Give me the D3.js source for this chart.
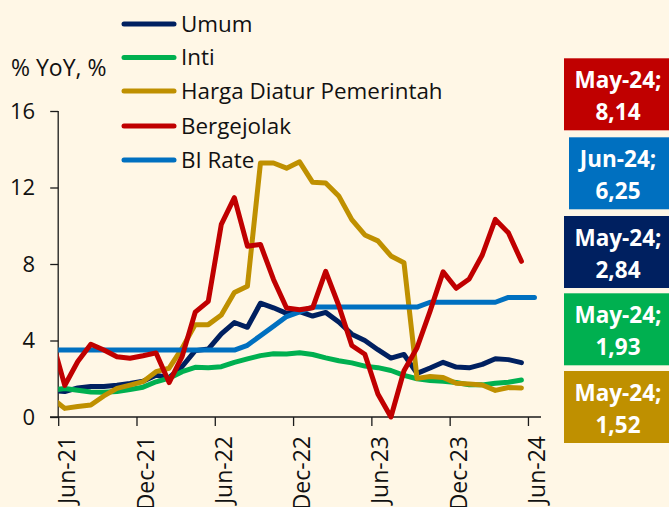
<!DOCTYPE html>
<html>
<head>
<meta charset="utf-8">
<script src="https://cdn.jsdelivr.net/npm/d3@7"></script>
<style>
  body { margin: 0; background: #fff7e6; }
  svg { display: block; font-family: "Open Sans", sans-serif; }
</style>
</head>
<body>
<div id="chart"></div>
<script>
// months from May-21 to Jun-24 (index 0 of the axis = Jun-21)
var months = ["May-21","Jun-21","Jul-21","Aug-21","Sep-21","Oct-21","Nov-21","Dec-21",
  "Jan-22","Feb-22","Mar-22","Apr-22","May-22","Jun-22","Jul-22","Aug-22","Sep-22","Oct-22","Nov-22","Dec-22",
  "Jan-23","Feb-23","Mar-23","Apr-23","May-23","Jun-23","Jul-23","Aug-23","Sep-23","Oct-23","Nov-23","Dec-23",
  "Jan-24","Feb-24","Mar-24","Apr-24","May-24","Jun-24"];

var umum = [1.40, 1.33, 1.52, 1.59, 1.60, 1.66, 1.75, 1.87,
  2.18, 2.06, 2.64, 3.47, 3.55, 4.35, 4.94, 4.69, 5.95, 5.71, 5.42, 5.51,
  5.28, 5.47, 4.97, 4.33, 4.00, 3.52, 3.08, 3.27, 2.28, 2.56, 2.86, 2.61,
  2.57, 2.75, 3.05, 3.00, 2.84];

var inti = [1.40, 1.49, 1.40, 1.31, 1.30, 1.33, 1.44, 1.56,
  1.84, 2.03, 2.37, 2.60, 2.58, 2.63, 2.86, 3.04, 3.21, 3.31, 3.30, 3.36,
  3.27, 3.09, 2.94, 2.83, 2.66, 2.58, 2.43, 2.18, 2.00, 1.91, 1.87, 1.80,
  1.68, 1.68, 1.77, 1.82, 1.93];

var hargaDiatur = [1.00, 0.45, 0.55, 0.63, 1.10, 1.50, 1.67, 1.85,
  2.37, 2.55, 3.60, 4.83, 4.83, 5.33, 6.51, 6.84, 13.28, 13.28, 13.01, 13.34,
  12.27, 12.24, 11.56, 10.32, 9.52, 9.21, 8.42, 8.07, 2.02, 2.12, 2.07, 1.76,
  1.72, 1.67, 1.39, 1.54, 1.52];

var bergejolak = [4.10, 1.65, 2.90, 3.80, 3.50, 3.15, 3.07, 3.20,
  3.35, 1.80, 3.17, 5.48, 6.05, 10.07, 11.47, 8.93, 9.02, 7.19, 5.70, 5.61,
  5.71, 7.62, 5.83, 3.74, 3.28, 1.20, 0.00, 2.42, 3.62, 5.54, 7.59, 6.73,
  7.22, 8.47, 10.33, 9.63, 8.14];

var biRate = [3.50, 3.50, 3.50, 3.50, 3.50, 3.50, 3.50, 3.50,
  3.50, 3.50, 3.50, 3.50, 3.50, 3.50, 3.50, 3.75, 4.25, 4.75, 5.25, 5.50,
  5.75, 5.75, 5.75, 5.75, 5.75, 5.75, 5.75, 5.75, 5.75, 6.00, 6.00, 6.00,
  6.00, 6.00, 6.00, 6.25, 6.25, 6.25];

var yTicks = [0, 4, 8, 12, 16];
var xTickLabels = ["Jun-21", "Dec-21", "Jun-22", "Dec-22", "Jun-23", "Dec-23", "Jun-24"];

var seriesNames = ["Umum", "Inti", "Harga Diatur Pemerintah", "Bergejolak", "BI Rate"];
var seriesColors = ["#002060", "#00b050", "#bf9000", "#c00000", "#0070c0"];

// last-value boxes on the right
var boxLabels = [
  { line1: "May-24;", line2: "8,14", color: "#c00000" },
  { line1: "Jun-24;", line2: "6,25", color: "#0070c0" },
  { line1: "May-24;", line2: "2,84", color: "#002060" },
  { line1: "May-24;", line2: "1,93", color: "#00b050" },
  { line1: "May-24;", line2: "1,52", color: "#bf9000" }
];

var W = 669, H = 507;
var svg = d3.select("#chart").append("svg")
  .attr("width", W).attr("height", H);

svg.append("rect").attr("width", W).attr("height", H).attr("fill", "#fff7e6");

// scales: month index 0 = Jun-21, bands of one month, points at band centre
var x = d3.scaleLinear().domain([-0.5, 36.5]).range([58.2, 541]);
var y = d3.scaleLinear().domain([0, 16]).range([417, 111]);

function idx(i) { return i - 1; } // array position -> month index

// clip at the y axis (lines start clipped there)
svg.append("clipPath").attr("id", "plotclip")
  .append("rect").attr("x", 58.2).attr("y", 0).attr("width", 600).attr("height", 430);

// y axis
var yAxis = svg.append("g")
  .attr("transform", "translate(58.2,0)")
  .call(d3.axisLeft(y).tickValues(yTicks).tickSize(8).tickPadding(15));
yAxis.select(".domain").attr("d", "M0," + y(16) + "V" + y(0));

// x axis
var xAxis = svg.append("g")
  .attr("transform", "translate(0,417)")
  .call(d3.axisBottom(x)
    .tickValues([-0.5, 5.5, 11.5, 17.5, 23.5, 29.5, 35.5])
    .tickFormat(function (d, i) { return xTickLabels[i]; })
    .tickSize(9));
xAxis.select(".domain").attr("d", "M50,0H541");
xAxis.selectAll(".tick text")
  .attr("transform", "rotate(-90)")
  .attr("text-anchor", "end")
  .attr("x", -19)
  .attr("y", 8.5)
  .attr("dy", "0.35em");

svg.selectAll(".domain, .tick line").attr("stroke", "#1a1a1a").attr("stroke-width", 1.3);
yAxis.selectAll(".tick text").attr("font-size", 22).attr("fill", "#111").attr("font-family", "Open Sans");
xAxis.selectAll(".tick text").attr("font-size", 23).attr("fill", "#111").attr("font-family", "Open Sans");

// lines
var allSeries = [umum, inti, hargaDiatur, biRate, bergejolak];
var allColors = ["#002060", "#00b050", "#bf9000", "#0070c0", "#c00000"];

var line = d3.line()
  .x(function (d, i) { return x(idx(i)); })
  .y(function (d) { return y(d); });

var plot = svg.append("g").attr("clip-path", "url(#plotclip)");
allSeries.forEach(function (s, k) {
  plot.append("path")
    .datum(s)
    .attr("d", line)
    .attr("fill", "none")
    .attr("stroke", allColors[k])
    .attr("stroke-width", 5)
    .attr("stroke-linejoin", "round")
    .attr("stroke-linecap", "round");
});

// axis title
svg.append("text")
  .attr("x", 11).attr("y", 76)
  .attr("font-size", 23).attr("fill", "#111")
  .text("% YoY, %");

// legend
var legendY = [24, 57.5, 91, 126, 160];
seriesNames.forEach(function (name, i) {
  svg.append("line")
    .attr("x1", 124).attr("x2", 174)
    .attr("y1", legendY[i]).attr("y2", legendY[i])
    .attr("stroke", seriesColors[i]).attr("stroke-width", 5)
    .attr("stroke-linecap", "round");
  svg.append("text")
    .attr("x", 181).attr("y", legendY[i])
    .attr("dy", "0.35em")
    .attr("font-size", 22.4).attr("fill", "#111")
    .text(name);
});

// right boxes
var boxTop = [58.3, 137.3, 216, 293.3, 371];
boxLabels.forEach(function (b, i) {
  var bx = i === 1 ? 569 : 564;
  svg.append("rect")
    .attr("x", bx).attr("y", boxTop[i])
    .attr("width", W - bx).attr("height", 72)
    .attr("fill", b.color);
  svg.append("text")
    .attr("x", 618).attr("y", boxTop[i] + 30)
    .attr("text-anchor", "middle")
    .attr("font-size", 22.5).attr("font-weight", "bold").attr("fill", "#fff")
    .text(b.line1);
  svg.append("text")
    .attr("x", 618).attr("y", boxTop[i] + 62)
    .attr("text-anchor", "middle")
    .attr("font-size", 22.5).attr("font-weight", "bold").attr("fill", "#fff")
    .text(b.line2);
});
</script>
</body>
</html>
